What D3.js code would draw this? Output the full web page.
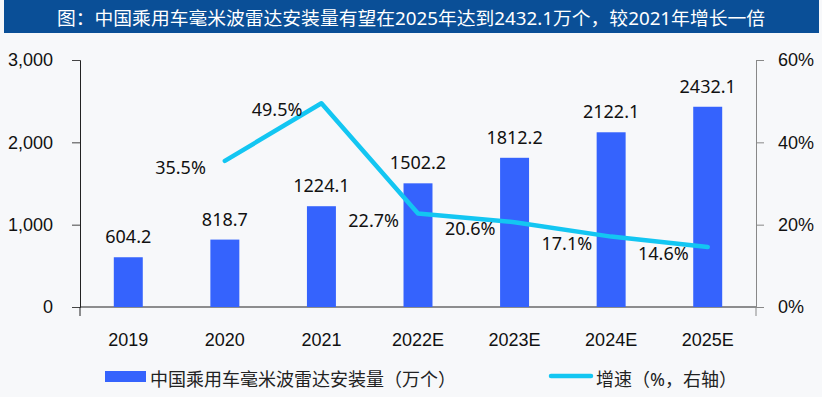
<!DOCTYPE html>
<html>
<head>
<meta charset="utf-8">
<script src="https://cdn.jsdelivr.net/npm/d3@7"></script>
<style>
  html, body { margin: 0; padding: 0; background: #f7f8fa; }
  svg { display: block; font-family: "Noto Sans", "Noto Sans CJK SC", sans-serif; }
</style>
</head>
<body>
<svg id="chart" width="822" height="397"></svg>
<script>
// data
const categories = ['2019', '2020', '2021', '2022E', '2023E', '2024E', '2025E'];
const volume = [604.2, 818.7, 1224.1, 1502.2, 1812.2, 2122.1, 2432.1];
const growth = [null, 35.5, 49.5, 22.7, 20.6, 17.1, 14.6];
const leftTicks = [0, 1000, 2000, 3000];
const rightTicks = [0, 20, 40, 60];

const title = '图：中国乘用车毫米波雷达安装量有望在2025年达到2432.1万个，较2021年增长一倍';
const barName = '中国乘用车毫米波雷达安装量（万个）';
const lineName = '增速（%，右轴）';

const barColor = '#3563fd';
const lineColor = '#13c6f2';

const svg = d3.select('#chart');
const W = 822, H = 397;
const m = { left: 80, right: 66, top: 60, bottom: 90 };

svg.append('rect').attr('width', W).attr('height', H).attr('fill', '#f7f8fa');

// title bar
svg.append('rect')
  .attr('x', 4).attr('y', 0)
  .attr('width', 815).attr('height', 33)
  .attr('fill', '#0a4f97');
svg.append('text')
  .attr('x', 57).attr('y', 18)
  .attr('dominant-baseline', 'central')
  .attr('fill', '#fff')
  .style('font-size', '18px')
  .attr('textLength', 708)
  .attr('lengthAdjust', 'spacingAndGlyphs')
  .text(title);

const x = d3.scaleBand()
  .domain(categories)
  .range([m.left, W - m.right])
  .paddingInner(0.7)
  .paddingOuter(0.35);

const y = d3.scaleLinear().domain([0, 3000]).range([H - m.bottom, m.top]);
const y2 = d3.scaleLinear().domain([0, 60]).range([H - m.bottom, m.top]);
const base = H - m.bottom;

// left axis
const gl = svg.append('g')
  .attr('transform', 'translate(' + m.left + ',0)')
  .call(d3.axisLeft(y).tickValues(leftTicks).tickSize(8).tickPadding(19).tickFormat(d3.format(',')));
gl.select('.domain').attr('stroke', '#222');
gl.selectAll('.tick line').attr('stroke', '#444');
gl.selectAll('text').style('font-size', '18px').attr('fill', '#111');

// right axis
const gr = svg.append('g')
  .attr('transform', 'translate(' + (W - m.right) + ',0)')
  .call(d3.axisRight(y2).tickValues(rightTicks).tickSize(8).tickPadding(14).tickFormat(d => d + '%'));
gr.select('.domain').attr('stroke', '#888');
gr.selectAll('.tick line').attr('stroke', '#888');
gr.selectAll('text').style('font-size', '18px').attr('fill', '#111');

// baseline + small drops at both ends
svg.append('line')
  .attr('x1', m.left).attr('x2', W - m.right)
  .attr('y1', base).attr('y2', base)
  .attr('stroke', '#222');
svg.append('line')
  .attr('x1', m.left).attr('x2', m.left)
  .attr('y1', base).attr('y2', base + 9)
  .attr('stroke', '#222');
svg.append('line')
  .attr('x1', W - m.right).attr('x2', W - m.right)
  .attr('y1', base).attr('y2', base + 9)
  .attr('stroke', '#888');

// category labels
const gx = svg.append('g')
  .attr('transform', 'translate(0,' + base + ')')
  .call(d3.axisBottom(x).tickSize(0).tickPadding(26));
gx.select('.domain').remove();
gx.selectAll('text').style('font-size', '18px').attr('fill', '#111');

// bars
svg.selectAll('.bar')
  .data(volume)
  .enter().append('rect')
  .attr('class', 'bar')
  .attr('x', (d, i) => x(categories[i]))
  .attr('width', x.bandwidth())
  .attr('y', d => y(d))
  .attr('height', d => base - y(d))
  .attr('fill', barColor);

svg.selectAll('.barlabel')
  .data(volume)
  .enter().append('text')
  .attr('class', 'barlabel')
  .attr('x', (d, i) => x(categories[i]) + x.bandwidth() / 2)
  .attr('y', d => y(d) - 21)
  .attr('text-anchor', 'middle')
  .attr('dominant-baseline', 'central')
  .style('font-size', '18px')
  .attr('fill', '#111')
  .text(d => d.toFixed(1));

// growth line
const pts = growth
  .map((g, i) => ({ g: g, c: categories[i] }))
  .filter(p => p.g !== null);

const line = d3.line()
  .x(p => x(p.c) + x.bandwidth() / 2)
  .y(p => y2(p.g));

svg.append('path')
  .datum(pts)
  .attr('d', line)
  .attr('fill', 'none')
  .attr('stroke', lineColor)
  .attr('stroke-width', 4.5)
  .attr('stroke-linejoin', 'round')
  .attr('stroke-linecap', 'round');

svg.selectAll('.linelabel')
  .data(pts)
  .enter().append('text')
  .attr('class', 'linelabel')
  .attr('x', p => x(p.c) + x.bandwidth() / 2 - 19)
  .attr('y', p => y2(p.g) + 6)
  .attr('text-anchor', 'end')
  .attr('dominant-baseline', 'central')
  .style('font-size', '18px')
  .attr('fill', '#111')
  .text(p => p.g.toFixed(1) + '%');

// legend
const lg = svg.append('g');
lg.append('rect')
  .attr('x', 105).attr('y', 371)
  .attr('width', 41).attr('height', 11)
  .attr('fill', barColor);
lg.append('text')
  .attr('x', 150).attr('y', 379)
  .attr('dominant-baseline', 'central')
  .style('font-size', '18px')
  .attr('fill', '#222')
  .text(barName);
lg.append('line')
  .attr('x1', 551).attr('x2', 591)
  .attr('y1', 376).attr('y2', 376)
  .attr('stroke', lineColor)
  .attr('stroke-width', 4.5)
  .attr('stroke-linecap', 'round');
lg.append('text')
  .attr('x', 596).attr('y', 379)
  .attr('dominant-baseline', 'central')
  .style('font-size', '18px')
  .attr('fill', '#222')
  .text(lineName);
</script>
</body>
</html>
